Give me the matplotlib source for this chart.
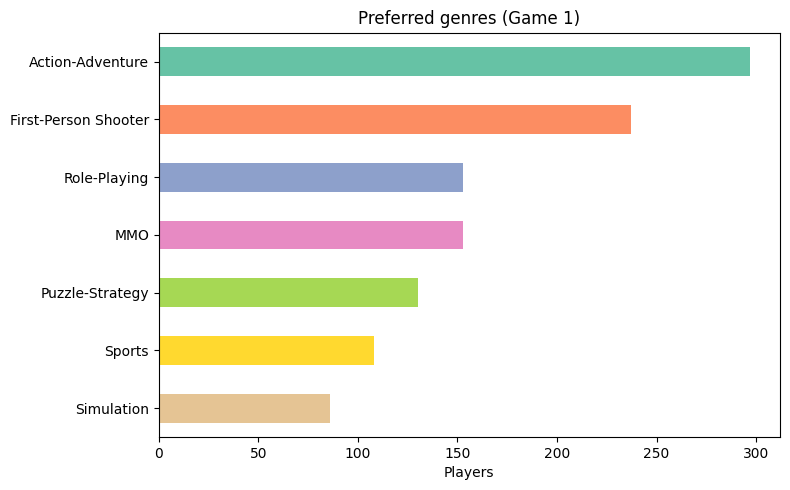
import numpy as np
import matplotlib.pyplot as plt

genres = ["Action-Adventure", "First-Person Shooter", "Role-Playing", "MMO",
          "Puzzle-Strategy", "Sports", "Simulation"]
players = [297, 237, 153, 153, 130, 108, 86]

colors = plt.get_cmap("Set2").colors[:len(genres)]

fig, ax = plt.subplots(figsize=(7.9, 4.9), dpi=100)
y = np.arange(len(genres))[::-1]
ax.barh(y, players, height=0.5, color=colors)
ax.set_yticks(y)
ax.set_yticklabels(genres)
ax.set_ylim(-0.5, len(genres) - 0.5)
ax.set_xlabel("Players")
ax.set_title("Preferred genres (Game 1)")
fig.subplots_adjust(left=0.201, right=0.987, top=0.933, bottom=0.108)
fig.savefig("out.png")
